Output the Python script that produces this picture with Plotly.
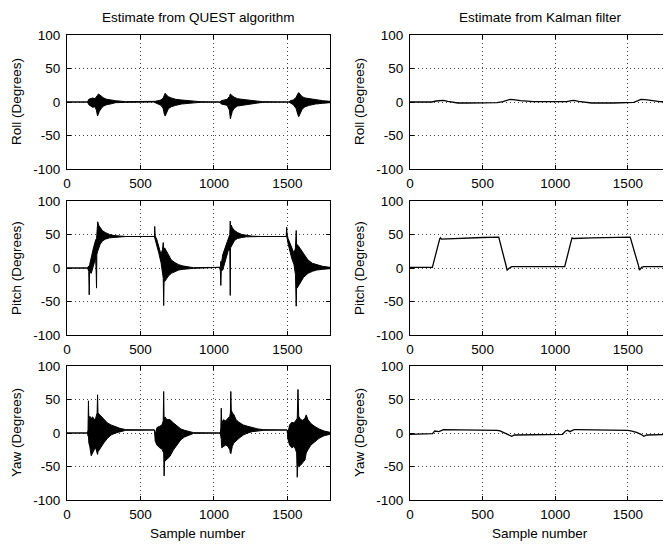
import plotly.graph_objects as go

# window 671x544; the page body has an 8px margin, so the figure is 8px smaller
PAGE_W, PAGE_H = 671, 544
OFF = 8
W, H = PAGE_W - OFF, PAGE_H - OFF

# ---------------- QUEST estimates (envelopes of the dense oscillation) ----------------
quest_roll_x = [0, 140, 148, 160, 175, 190, 200, 208, 214, 220, 235, 250, 270, 295, 330, 400,
                590, 600, 620, 640, 655, 662, 668, 675, 690, 710, 740, 780, 830, 905,
                1040, 1050, 1070, 1090, 1105, 1112, 1118, 1125, 1140, 1160, 1190, 1230, 1280, 1330,
                1510, 1520, 1540, 1560, 1570, 1577, 1585, 1600, 1620, 1650, 1690, 1740, 1790]
quest_roll_hi = [0, 0, 4, 5, 6, 5, 7, 10, 12, 11, 8, 6, 4, 3, 2, 0.5,
                 0, 1, 2, 3, 6, 11, 13, 11, 8, 6, 4, 3, 2, 0.5,
                 0, 2, 3, 4, 8, 12, 11, 9, 7, 5, 4, 3, 2, 0.5,
                 0, 2, 3, 7, 12, 14, 12, 8, 6, 5, 3, 2, 1]
quest_roll_lo = [0, 0, -4, -6, -8, -7, -12, -21, -18, -14, -9, -6, -4, -3, -1, -0.5,
                 0, -1, -3, -5, -10, -18, -21, -16, -10, -7, -5, -3, -2, -0.5,
                 0, -3, -4, -5, -12, -25, -20, -14, -9, -6, -4, -3, -2, -0.5,
                 0, -2, -4, -10, -18, -22, -18, -11, -7, -5, -3, -2, -1]

quest_pitch_x = [0, 140, 148, 151, 154, 165, 180, 195, 199, 201, 203, 209, 215, 225, 240, 260, 290, 320, 360, 400,
                 595, 597, 600, 612, 625, 640, 650, 655, 658, 661, 665, 675, 690, 710, 735, 760, 790, 820, 860,
                 1040, 1044, 1047, 1050, 1060, 1075, 1090, 1100, 1108, 1111, 1113, 1118, 1125, 1140, 1160, 1190, 1220, 1260, 1320,
                 1492, 1495, 1498, 1505, 1515, 1530, 1545, 1555, 1560, 1563, 1566, 1575, 1590, 1610, 1640, 1670, 1700, 1740, 1790]
quest_pitch_hi = [0, 0, 3, 2, 5, 18, 30, 42, 44, 44, 50, 69, 64, 60, 56, 53, 50, 48.5, 47.5, 47,
                  47, 62, 48, 42, 32, 20, 28, 38, 30, 28, 30, 26, 18, 12, 8, 5, 3, 1.5, 0.5,
                  1, 1, 10, 5, 20, 30, 40, 45, 50, 70, 60, 64, 60, 56, 53, 50, 48.5, 47.5, 47,
                  47, 61, 50, 44, 38, 28, 22, 30, 56, 32, 35, 33, 28, 20, 12, 7, 5, 2.5, 1]
quest_pitch_lo = [0, 0, -5, -40, -5, -8, 5, 15, -10, -30, 20, 25, 30, 35, 40, 43, 45, 46, 46.5, 47,
                  47, 47, 44, 34, 22, 8, -5, -15, -56, -18, -20, -18, -12, -8, -5, -3, -2, -1, -0.5,
                  1, -5, -26, -5, -3, 10, 20, 28, 25, -41, 30, 32, 36, 41, 44, 45.5, 46.5, 47, 47,
                  47, 47, 45, 36, 25, 14, 5, -10, -57, -25, -30, -28, -22, -14, -8, -5, -3, -2, -1]

quest_yaw_x = [0, 140, 143, 146, 149, 155, 165, 175, 185, 195, 205, 208, 211, 220, 235, 250, 275, 300, 330, 360, 400,
               596, 600, 612, 630, 646, 655, 658, 661, 664, 667, 680, 700, 725, 750, 775, 800, 830, 862,
               1044, 1047, 1050, 1053, 1065, 1080, 1095, 1108, 1112, 1115, 1118, 1125, 1135, 1150, 1170, 1200, 1230, 1260, 1300, 1340,
               1499, 1502, 1515, 1530, 1545, 1555, 1563, 1567, 1572, 1577, 1590, 1605, 1620, 1628, 1640, 1660, 1685, 1715, 1750, 1790]
quest_yaw_hi = [0, 0, 5, 48, 15, 25, 22, 24, 20, 22, 30, 57, 30, 28, 24, 20, 15, 12, 9, 7, 5,
                4.5, -3, 8, 10, 12, 18, 62, 20, 22, 24, 20, 20, 15, 10, 6, 4, 2, 0.5,
                0, 8, 37, 15, 20, 18, 22, 25, 30, 62, 35, 30, 28, 20, 16, 12, 10, 8, 6, 5,
                4.5, -2, 12, 16, 15, 18, 20, 22, 65, 25, 20, 19, 22, 27, 20, 14, 10, 6, 3, 1]
quest_yaw_lo = [0, 0, -5, -5, -15, -20, -34, -30, -25, -22, -30, -32, -28, -26, -20, -15, -8, -3, 0, 2, 4,
                4.5, -12, -18, -22, -24, -28, -30, -64, -40, -42, -39, -35, -25, -18, -10, -6, -3, -0.5,
                0, -5, -10, -22, -20, -18, -20, -25, -30, -31, -26, -20, -15, -12, -8, -3, 0, 2, 3, 4,
                4.5, -8, -18, -22, -20, -24, -30, -66, -40, -50, -48, -45, -40, -30, -25, -18, -13, -8, -4, -2]

# ---------------- Kalman filter estimates ----------------
kal_roll_x = [0, 150, 180, 210, 230, 260, 290, 330, 400, 470, 500, 560, 600, 640, 670, 690, 710, 760, 850,
              1000, 1080, 1110, 1130, 1160, 1200, 1250, 1400, 1500, 1540, 1570, 1590, 1620, 1660, 1720, 1790]
kal_roll_y = [0, 0, 1.5, 2.5, 2.5, 1, -0.5, -1.5, -1.5, -1.5, -2, -2, -1, 0.5, 3, 4, 3.5, 2, 0.5,
              0, 0.5, 2, 2.5, 1, -0.5, -1.5, -1.5, -1.5, -0.5, 2, 4, 3.5, 2, 0.5, 0]

kal_pitch_x = [0, 154, 205, 211, 216, 300, 400, 500, 611, 660, 669, 685, 700, 900, 1065, 1115, 1120, 1125,
               1250, 1400, 1516, 1575, 1580, 1595, 1610, 1790]
kal_pitch_y = [1, 1, 44, 45, 43, 44, 45, 45.5, 46, 5, -3, 0, 2, 2, 2, 45, 44, 44,
               45, 45.5, 46, 2, -3, 1, 2, 2]

kal_yaw_x = [0, 140, 155, 170, 185, 200, 230, 260, 400, 600, 620, 650, 680, 700, 720, 820, 1000, 1050, 1070,
             1085, 1100, 1130, 1150, 1300, 1500, 1520, 1560, 1590, 1610, 1630, 1700, 1790]
kal_yaw_y = [-2, -2, -1, 3, 2, 2, 5, 5, 5, 4, 3, 0, -3, -5, -3, -3, -2, -2, 3,
             4, 2, 5, 5, 5, 4, 3, 1, -2, -5, -3, -3, -2]

col_titles = ["Estimate from QUEST algorithm", "Estimate from Kalman filter"]
row_labels = ["Roll (Degrees)", "Pitch (Degrees)", "Yaw (Degrees)"]
x_ticks = [0, 500, 1000, 1500]
y_ticks = [-100, -50, 0, 50, 100]
x_label = "Sample number"

# ---------------- layout geometry (page pixels) ----------------
col_px = [(67, 330), (410, 670)]
row_px = [(35, 169), (201, 335), (366, 500)]


def fx(px):
    return (px - OFF) / W


def fy(py):
    return 1 - (py - OFF) / H


FONT = "Liberation Sans, Arial, Helvetica, sans-serif"
FS = 13.5

fig = go.Figure()

quest = [(quest_roll_x, quest_roll_hi, quest_roll_lo),
         (quest_pitch_x, quest_pitch_hi, quest_pitch_lo),
         (quest_yaw_x, quest_yaw_hi, quest_yaw_lo)]
kal = [(kal_roll_x, kal_roll_y), (kal_pitch_x, kal_pitch_y), (kal_yaw_x, kal_yaw_y)]

layout = {}
for r in range(3):
    for c in range(2):
        idx = r * 2 + c + 1
        xa = "x" if idx == 1 else f"x{idx}"
        ya = "y" if idx == 1 else f"y{idx}"
        if c == 0:
            xs, hi, lo = quest[r]
            fig.add_trace(go.Scatter(
                x=list(xs) + list(xs)[::-1], y=list(hi) + list(lo)[::-1],
                mode="lines", fill="toself", fillcolor="black",
                line=dict(color="black", width=1), xaxis=xa, yaxis=ya,
                showlegend=False, hoverinfo="skip"))
        else:
            xs, ys = kal[r]
            fig.add_trace(go.Scatter(
                x=xs, y=ys, mode="lines", line=dict(color="black", width=1.3),
                xaxis=xa, yaxis=ya, showlegend=False))
        x0, x1 = col_px[c]
        yt, yb = row_px[r]
        axcommon = dict(
            showline=True, linecolor="black", linewidth=1, mirror="ticks",
            ticks="inside", ticklen=4, tickcolor="black", tickwidth=1,
            showgrid=True, gridcolor="#444", gridwidth=1, griddash="1px,3px",
            zeroline=False, tickfont=dict(family=FONT, size=FS, color="black"),
            fixedrange=True, automargin=False)
        layout["xaxis" if idx == 1 else f"xaxis{idx}"] = dict(
            axcommon, domain=[fx(x0), min(fx(x1), 1.0)], range=[0, 1790],
            tickvals=x_ticks, ticktext=[str(v) for v in x_ticks],
            anchor=ya, ticklabelstandoff=2)
        layout["yaxis" if idx == 1 else f"yaxis{idx}"] = dict(
            axcommon, domain=[fy(yb), fy(yt)], range=[-100, 100],
            tickvals=y_ticks, ticktext=[str(v) for v in y_ticks],
            anchor=xa, ticklabelstandoff=3)

annotations = []
for c in range(2):
    x0, x1 = col_px[c]
    annotations.append(dict(text=col_titles[c], x=fx((x0 + x1) / 2), y=1.0,
                            xref="paper", yref="paper", showarrow=False,
                            xanchor="center", yanchor="top",
                            font=dict(family=FONT, size=FS, color="black")))
    annotations.append(dict(text=x_label, x=fx((x0 + x1) / 2), y=fy(533),
                            xref="paper", yref="paper", showarrow=False,
                            xanchor="center", yanchor="middle",
                            font=dict(family=FONT, size=FS, color="black")))
    for r in range(3):
        yt, yb = row_px[r]
        annotations.append(dict(text=row_labels[r], x=fx(x0 - 51), y=fy((yt + yb) / 2),
                                xref="paper", yref="paper", showarrow=False, textangle=-90,
                                xanchor="center", yanchor="middle",
                                font=dict(family=FONT, size=FS, color="black")))

fig.update_layout(width=W, height=H, margin=dict(l=0, r=0, t=0, b=0, autoexpand=False),
                  paper_bgcolor="white", plot_bgcolor="white",
                  annotations=annotations, **layout)

fig.write_html("out.html")
